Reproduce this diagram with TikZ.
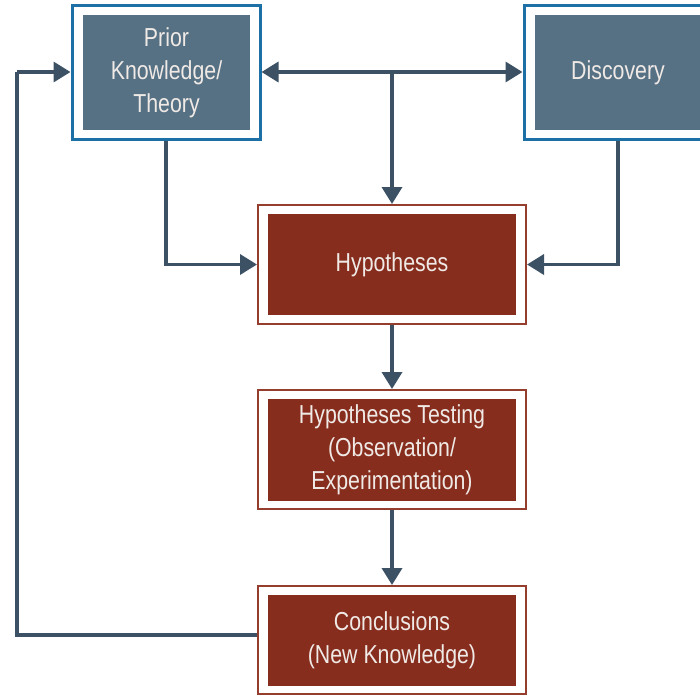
\documentclass[tikz,border=0pt]{standalone}
\usepackage{fontspec}
\setmainfont{Liberation Sans}[FakeStretch=0.82]
\usetikzlibrary{arrows.meta}
\definecolor{slatefill}{RGB}{86,112,132}
\definecolor{slateedge}{RGB}{28,112,166}
\definecolor{rustfill}{RGB}{135,45,30}
\definecolor{rustedge}{RGB}{150,62,46}
\definecolor{wire}{RGB}{60,82,100}
\definecolor{paletext}{RGB}{240,234,230}
\begin{document}
\begin{tikzpicture}[x=1pt,y=-1pt,
  frame/.style={rectangle, fill=white, inner sep=0pt},
  blueframe/.style={frame, draw=slateedge, line width=3pt, minimum width=188pt, minimum height=134pt},
  bluecore/.style={rectangle, fill=slatefill, inner sep=0pt, minimum width=167pt, minimum height=115pt,
    text=paletext, align=center, font=\fontsize{26}{33}\selectfont},
  redframe/.style={frame, draw=rustedge, line width=2pt, minimum width=268pt},
  redcore/.style={rectangle, fill=rustfill, inner sep=0pt, minimum width=248pt,
    text=paletext, align=center, font=\fontsize{26}{33}\selectfont},
  link/.style={draw=wire, line width=3.5pt},
  arrow/.style={link, -{Triangle[length=17pt,width=20pt]}},
  twoway/.style={link, {Triangle[length=17pt,width=20pt]}-{Triangle[length=17pt,width=20pt]}}
]
\useasboundingbox (0,0) rectangle (700,694);

% knowledge sources
\node[blueframe] (prior) at (166,72) {};
\node[bluecore] (priorin) at (166.5,72.5) {Prior\\Knowledge/\\Theory};
\node[blueframe] (disc) at (618,72) {};
\node[bluecore] (discin) at (618,72.5) {Discovery};

% research steps
\node[redframe, minimum height=119pt] (hyp) at (392,264.5) {};
\node[redcore, minimum height=101pt] (hypin) at (392,264.5) {Hypotheses};
\node[redframe, minimum height=119pt] (test) at (392,449.5) {};
\node[redcore, minimum height=102pt] (testin) at (392,450) {Hypotheses Testing\\(Observation/\\Experimentation)};
\node[redframe, minimum height=108pt] (conc) at (392,640) {};
\node[redcore, minimum height=91pt] (concin) at (392,640.5) {Conclusions\\(New Knowledge)};

% connectors
\draw[twoway] (prior.east) -- (disc.west);
\draw[arrow] (hyp.north |- prior.east) -- (hyp.north);
\draw[arrow] (prior.south) |- (hyp.west);
\draw[arrow] (disc.south) |- (hyp.east);
\draw[arrow] (hyp.south) -- (test.north);
\draw[arrow] (test.south) -- (conc.north);
\coordinate (loop) at (17,72);
\draw[link] ([yshift=5pt]conc.west) -| (loop);
\draw[arrow] (loop) -- (prior.west);
\end{tikzpicture}
\end{document}
